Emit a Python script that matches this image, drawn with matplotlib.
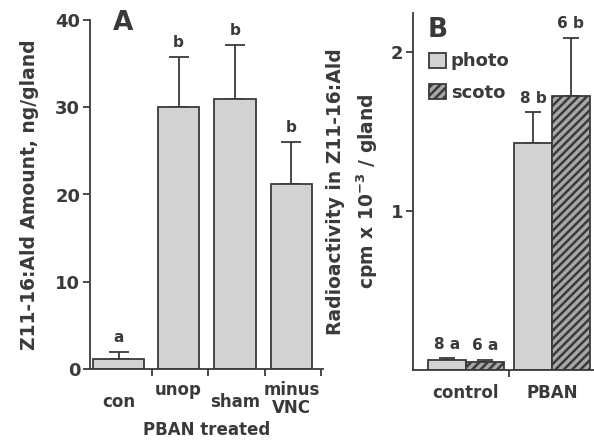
import matplotlib

matplotlib.use("Agg")
import matplotlib.pyplot as plt
from matplotlib.patches import Patch

# Panel A: pheromone titre per treatment
a_cats = ["con", "unop", "sham", "minus\nVNC"]
a_vals = [1.1, 30.0, 31.0, 21.2]
a_errs = [0.9, 5.8, 6.1, 4.8]
a_sig = ["a", "b", "b", "b"]
a_yticks = [0, 10, 20, 30, 40]

# Panel B: radioactivity, photophase vs scotophase
b_groups = ["control", "PBAN"]
b_photo = [0.06, 1.43]
b_photo_err = [0.015, 0.19]
b_scoto = [0.05, 1.72]
b_scoto_err = [0.015, 0.37]
b_photo_lab = ["8 a", "8 b"]
b_scoto_lab = ["6 a", "6 b"]
b_yticks = [1, 2]

INK = "#3a3a3a"
FILL = "#d2d2d2"
HATCH_FILL = "#a8a8a8"
plt.rcParams["font.family"] = "DejaVu Sans"
plt.rcParams["font.weight"] = "bold"
plt.rcParams["axes.labelweight"] = "bold"
plt.rcParams["hatch.color"] = INK
plt.rcParams["hatch.linewidth"] = 1.8

fig = plt.figure(figsize=(5.94, 4.4), dpi=100)

# layout (pixel-derived)
a_pos = [0.41, 1.47, 2.47, 3.47]
a_wid = [0.9, 0.74, 0.74, 0.74]
a_lab_y = [-0.07, -0.035, -0.07, -0.035]

axA = fig.add_axes([90 / 594, 1 - 369 / 440, 233 / 594, 349 / 440])
axA.bar(a_pos, a_vals, width=a_wid, color=FILL, edgecolor=INK, linewidth=1.3, zorder=2)
axA.errorbar(a_pos, a_vals, yerr=[[0] * 4, a_errs], fmt="none", ecolor=INK,
             elinewidth=1.3, capsize=7, capthick=1.3, zorder=1)
for x, v, e, s in zip(a_pos, a_vals, a_errs, a_sig):
    axA.text(x, v + e + 0.8, s, ha="center", va="bottom", color=INK, fontsize=11)
axA.set_xlim(-0.1, 4.03)
axA.set_ylim(0, 40)
axA.set_xticks([1, 2, 3, 4])
axA.set_xticklabels([])
axA.set_yticks(a_yticks)
axA.set_yticklabels([str(t) for t in a_yticks], fontsize=13, color=INK)
for x, c, ly in zip(a_pos, a_cats, a_lab_y):
    axA.text(x, ly, c, transform=axA.get_xaxis_transform(), ha="center", va="top",
             fontsize=12, color=INK, linespacing=0.95)
axA.text(0.5, -0.15, "PBAN treated", transform=axA.transAxes, ha="center", va="top",
         fontsize=12, color=INK)
axA.set_ylabel("Z11-16:Ald Amount, ng/gland", fontsize=13.5, color=INK, labelpad=12)
axA.text(0.1, 1.03, "A", transform=axA.transAxes, fontsize=19, color=INK, va="top")

axB = fig.add_axes([413 / 594, 1 - 370 / 440, 181 / 594, 357 / 440])
bx = [0, 1]
bw = 0.44
axB.bar([x - bw / 2 for x in bx], b_photo, width=bw, color=FILL, edgecolor=INK,
        linewidth=1.3, zorder=2, label="photo")
axB.bar([x + bw / 2 for x in bx], b_scoto, width=bw, color=HATCH_FILL, edgecolor=INK,
        linewidth=1.3, hatch="////", zorder=2, label="scoto")
axB.errorbar([x - bw / 2 for x in bx], b_photo, yerr=[[0, 0], b_photo_err], fmt="none",
             ecolor=INK, elinewidth=1.3, capsize=6, capthick=1.3, zorder=1)
axB.errorbar([x + bw / 2 for x in bx], b_scoto, yerr=[[0, 0], b_scoto_err], fmt="none",
             ecolor=INK, elinewidth=1.3, capsize=6, capthick=1.3, zorder=1)
for i in range(2):
    axB.text(bx[i] - bw / 2, b_photo[i] + b_photo_err[i] + 0.04, b_photo_lab[i],
             ha="center", va="bottom", fontsize=11, color=INK)
    axB.text(bx[i] + bw / 2, b_scoto[i] + b_scoto_err[i] + 0.04, b_scoto_lab[i],
             ha="center", va="bottom", fontsize=11, color=INK)
axB.set_xlim(-0.616, 1.49)
axB.set_ylim(0, 2.245)
axB.set_xticks([0.5])
axB.set_xticklabels([])
axB.set_yticks(b_yticks)
axB.set_yticklabels([str(t) for t in b_yticks], fontsize=13, color=INK)
for x, g in zip(bx, b_groups):
    axB.text(x, -0.04, g, transform=axB.get_xaxis_transform(), ha="center", va="top",
             fontsize=12, color=INK)
axB.set_ylabel("Radioactivity in Z11-16:Ald\ncpm x 10$^{-3}$ / gland", fontsize=13.5,
               color=INK, labelpad=8, linespacing=1.45)
axB.text(0.08, 0.99, "B", transform=axB.transAxes, fontsize=19, color=INK, va="top")
handles = [Patch(facecolor=FILL, edgecolor=INK, linewidth=1.3),
           Patch(facecolor=HATCH_FILL, edgecolor=INK, linewidth=1.3, hatch="////")]
axB.legend(handles, ["photo", "scoto"], loc="upper left", bbox_to_anchor=(0.05, 0.91),
           frameon=False, fontsize=13, handlelength=0.9, handleheight=0.9,
           handletextpad=0.3, labelspacing=0.75, borderaxespad=0, labelcolor=INK)

for ax in (axA, axB):
    for side in ("top", "right"):
        ax.spines[side].set_visible(False)
    for side in ("left", "bottom"):
        ax.spines[side].set_color(INK)
        ax.spines[side].set_linewidth(1.3)
    ax.tick_params(direction="out", length=5, width=1.3, color=INK, pad=2)

fig.savefig("out.png", dpi=100)
